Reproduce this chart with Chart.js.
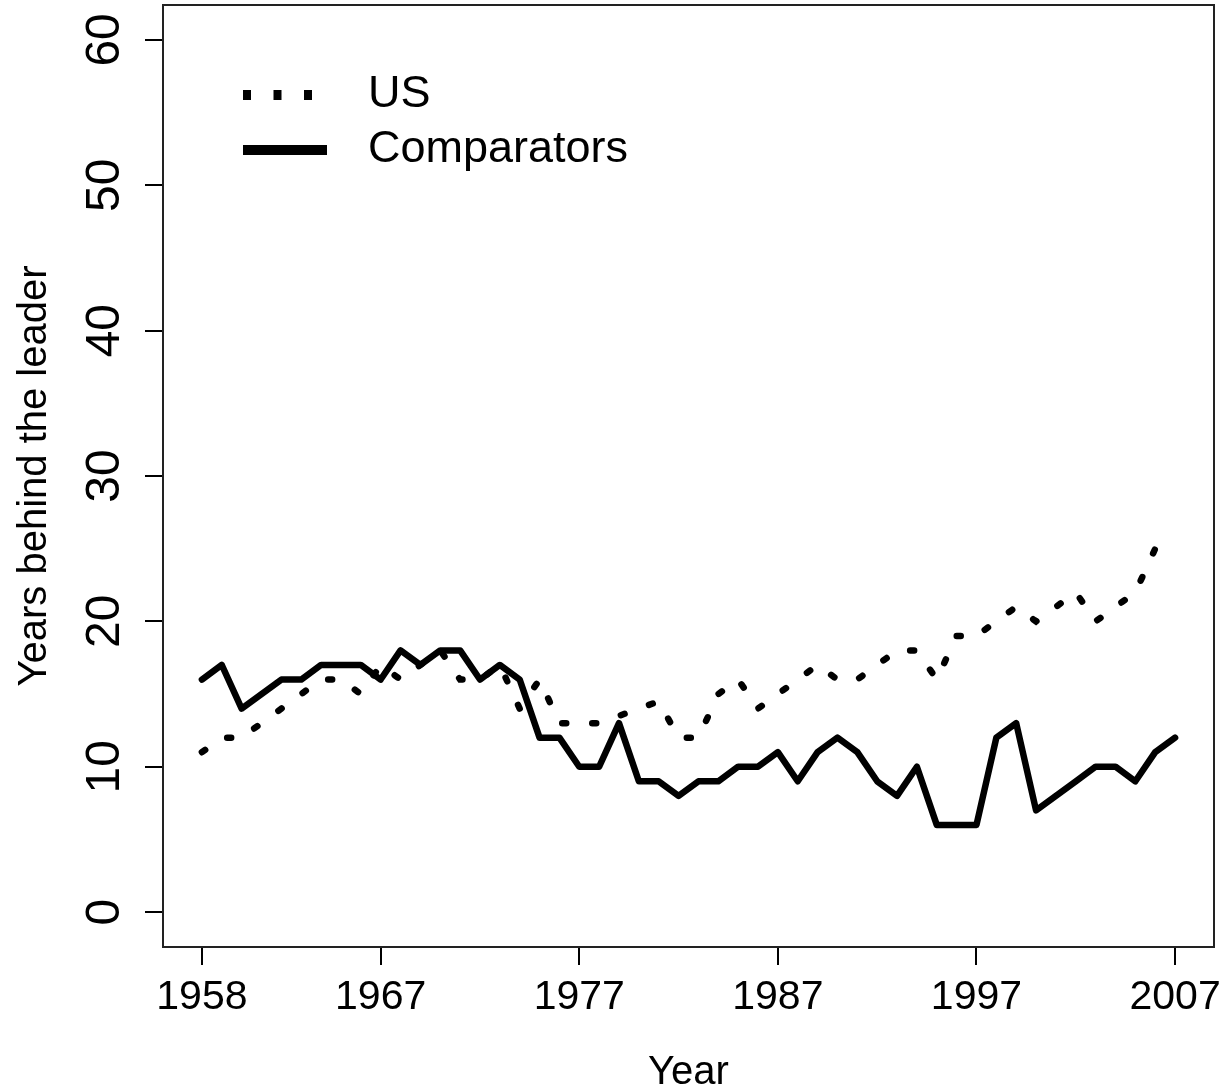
<!DOCTYPE html>
<html>
<head>
<meta charset="utf-8">
<script src="https://cdn.jsdelivr.net/npm/chart.js@4.4.1/dist/chart.umd.min.js"></script>
<style>
  html, body { margin: 0; padding: 0; background: #fff; }
  #wrap { width: 1227px; height: 1089px; }
</style>
</head>
<body>
<div id="wrap"><canvas id="chart" width="1227" height="1089"></canvas></div>
<script>
// data
const years = [1958, 1959, 1960, 1961, 1962, 1963, 1964, 1965, 1966, 1967,
               1968, 1969, 1970, 1971, 1972, 1973, 1974, 1975, 1976, 1977,
               1978, 1979, 1980, 1981, 1982, 1983, 1984, 1985, 1986, 1987,
               1988, 1989, 1990, 1991, 1992, 1993, 1994, 1995, 1996, 1997,
               1998, 1999, 2000, 2001, 2002, 2003, 2004, 2005, 2006, 2007];
const usValues = [11, 12, 12, 13, 14, 15, 16, 16, 15, 17,
                  16, 17, 18, 16, 16, 17, 14, 16, 13, 13,
                  13, 13.5, 14, 14.5, 12, 12, 15, 16, 14, 15,
                  16, 17, 16, 16, 17, 18, 18, 16, 19, 19,
                  20, 21, 20, 21, 22, 20, 21, 22, 25, 26];
const comparatorValues = [16, 17, 14, 15, 16, 16, 17, 17, 17, 16,
                          18, 17, 18, 18, 16, 17, 16, 12, 12, 10,
                          10, 13, 9, 9, 8, 9, 9, 10, 10, 11,
                          9, 11, 12, 11, 9, 8, 10, 6, 6, 6,
                          12, 13, 7, 8, 9, 10, 10, 9, 11, 12];
const xTicks = [1958, 1967, 1977, 1987, 1997, 2007];
const yTicks = [0, 10, 20, 30, 40, 50, 60];

const FONT = "'Liberation Sans', Arial, sans-serif";

function toPoints(values) {
    return years.map((yr, i) => ({ x: yr, y: values[i] }));
}

// keep the plot box where it is in the figure, no extra label padding
function fixSize(prop, size) {
    return s => {
        s[prop] = size;
        s.paddingTop = 0;
        s.paddingBottom = 0;
        s.paddingLeft = 0;
        s.paddingRight = 0;
    };
}

// plot frame and the legend in the top-left corner
const frameAndLegend = {
    id: "frameAndLegend",
    afterDraw(chart) {
        const { ctx, chartArea: a } = chart;
        ctx.save();
        ctx.strokeStyle = "#222";
        ctx.lineWidth = 2;
        ctx.strokeRect(a.left, a.top, a.right - a.left, a.bottom - a.top);

        const rows = [
            { ds: chart.data.datasets[1], y: 95, end: 318 },
            { ds: chart.data.datasets[0], y: 150, end: 327 }
        ];
        ctx.font = "45px " + FONT;
        ctx.textBaseline = "middle";
        ctx.textAlign = "left";
        ctx.fillStyle = "#000";
        rows.forEach(r => {
            ctx.beginPath();
            ctx.strokeStyle = "#000";
            ctx.lineWidth = 10;
            ctx.lineCap = "butt";
            ctx.setLineDash(r.ds.borderDash ? [8, 22.5] : []);
            ctx.moveTo(243, r.y);
            ctx.lineTo(r.end, r.y);
            ctx.stroke();
            ctx.setLineDash([]);
            ctx.fillText(r.ds.label, 368, r.y);
        });
        ctx.restore();
    }
};

new Chart(document.getElementById("chart"), {
    type: "line",
    data: {
        datasets: [
            {
                label: "Comparators",
                data: toPoints(comparatorValues),
                borderColor: "#000",
                borderWidth: 6.5,
                borderJoinStyle: "round",
                borderCapStyle: "round",
                pointRadius: 0,
                tension: 0
            },
            {
                label: "US",
                data: toPoints(usValues),
                borderColor: "#000",
                borderWidth: 6.5,
                borderDash: [4, 26],
                borderCapStyle: "round",
                pointRadius: 0,
                tension: 0
            }
        ]
    },
    options: {
        responsive: false,
        animation: false,
        devicePixelRatio: 1,
        layout: { padding: { left: 0, right: 13, top: 5, bottom: 0 } },
        plugins: {
            legend: { display: false },
            tooltip: { enabled: false }
        },
        scales: {
            x: {
                type: "linear",
                min: 1956.04,
                max: 2008.96,
                afterBuildTicks: s => { s.ticks = xTicks.map(v => ({ value: v })); },
                afterFit: fixSize("height", 142),
                border: { display: false },
                grid: { drawOnChartArea: false, drawTicks: true, tickLength: 18, color: "#000", lineWidth: 2 },
                ticks: {
                    autoSkip: false,
                    maxRotation: 0,
                    padding: 8,
                    color: "#000",
                    font: { family: FONT, size: 41 },
                    callback: v => String(v)
                },
                title: {
                    display: true,
                    text: "Year",
                    color: "#000",
                    font: { family: FONT, size: 40, lineHeight: 0.8 },
                    padding: { top: 0, bottom: 0 }
                }
            },
            y: {
                min: -2.4,
                max: 62.4,
                afterBuildTicks: s => { s.ticks = yTicks.map(v => ({ value: v })); },
                afterFit: fixSize("width", 163),
                border: { display: false },
                grid: { drawOnChartArea: false, drawTicks: true, tickLength: 18, color: "#000", lineWidth: 2 },
                ticks: {
                    minRotation: 90,
                    maxRotation: 90,
                    crossAlign: "center",
                    padding: 13,
                    color: "#000",
                    font: { family: FONT, size: 48 },
                    callback: v => String(v)
                },
                title: {
                    display: true,
                    text: "Years behind the leader",
                    color: "#000",
                    font: { family: FONT, size: 40 },
                    padding: { top: 11, bottom: 0 }
                }
            }
        }
    },
    plugins: [frameAndLegend]
});
</script>
</body>
</html>
